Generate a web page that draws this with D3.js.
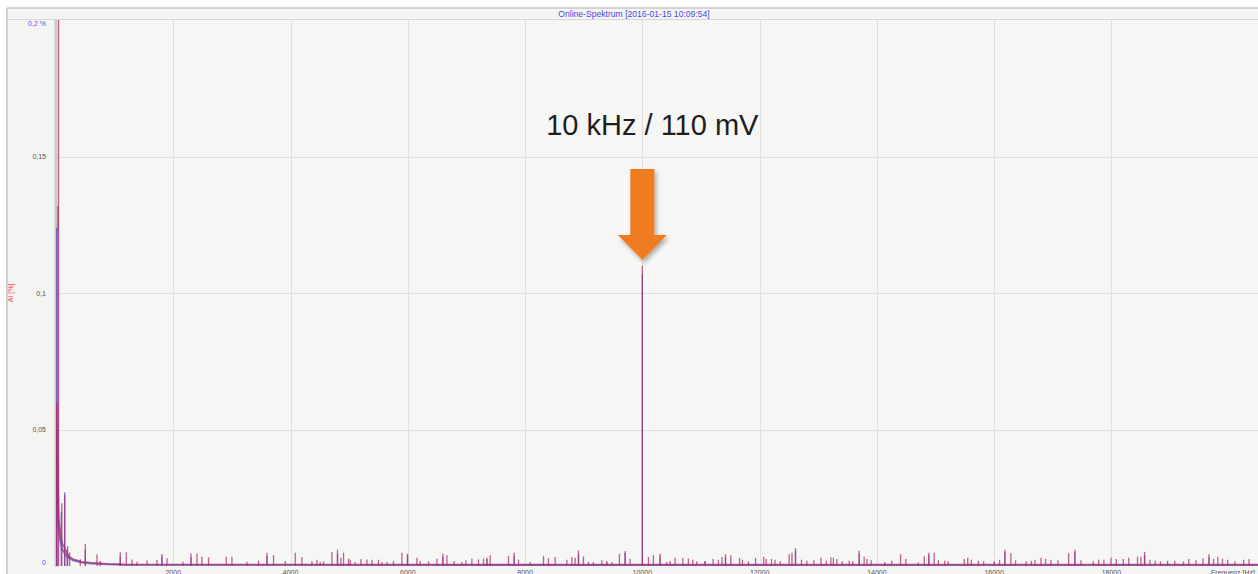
<!DOCTYPE html>
<html>
<head>
<meta charset="utf-8">
<script src="https://cdn.jsdelivr.net/npm/d3@7"></script>
<style>
  html, body { margin: 0; padding: 0; background: #ffffff; }
  svg { display: block; }
</style>
</head>
<body>
<svg id="chart" width="1258" height="574"></svg>
<script>
// Spectrum channels as [frequency Hz, amplitude] pairs
const redPeaks = [
  [44, 0.42], [30, 0.132], [100, 0.023], [150, 0.026], [198, 0.0073], [232, 0.005],
  [414, 0.0025], [500, 0.0081], [699, 0.0042], [755, 0.0018], [1096, 0.005], [1199, 0.005],
  [1296, 0.0024], [1381, 0.0016], [1552, 0.002], [1722, 0.0022], [1807, 0.0044], [1893, 0.0028],
  [2165, 0.0016], [2302, 0.0046], [2404, 0.0046], [2489, 0.0034], [2602, 0.0032], [2904, 0.0034],
  [3001, 0.0034], [3257, 0.0016], [3454, 0.002], [3598, 0.0049], [3710, 0.004], [3910, 0.0018],
  [4080, 0.0049], [4194, 0.0033], [4365, 0.0017], [4450, 0.0023], [4506, 0.0015], [4563, 0.0017],
  [4706, 0.0051], [4801, 0.006], [4859, 0.003], [4904, 0.0049], [4989, 0.0027], [5018, 0.0023],
  [5103, 0.0015], [5200, 0.0026], [5303, 0.0024], [5388, 0.0023], [5500, 0.0023], [5558, 0.0015],
  [5644, 0.0015], [5756, 0.0018], [5899, 0.0049], [5995, 0.0045], [6155, 0.003], [6211, 0.0018],
  [6353, 0.0017], [6496, 0.0027], [6598, 0.0045], [6667, 0.0039], [6791, 0.0018], [6922, 0.0015],
  [6991, 0.0021], [7093, 0.0027], [7206, 0.0024], [7291, 0.0027], [7349, 0.003], [7405, 0.0039],
  [7717, 0.0037], [7814, 0.0049], [7888, 0.0023], [8087, 0.0015], [8314, 0.0037], [8399, 0.0029],
  [8513, 0.0033], [8713, 0.0023], [8798, 0.0033], [8854, 0.003], [8911, 0.0057], [8996, 0.0035],
  [9081, 0.0015], [9166, 0.0015], [9309, 0.0021], [9395, 0.0018], [9480, 0.0015], [9609, 0.0045],
  [9706, 0.0055], [9792, 0.0027], [10000, 0.11], [10104, 0.0033], [10189, 0.0039], [10303, 0.0045],
  [10417, 0.0015], [10474, 0.0018], [10559, 0.003], [10690, 0.0029], [10786, 0.0027], [10861, 0.0023],
  [10929, 0.0017], [11069, 0.0017], [11207, 0.0026], [11297, 0.0023], [11358, 0.0034], [11418, 0.0043],
  [11509, 0.0039], [11659, 0.003], [11708, 0.0023], [11810, 0.0017], [11931, 0.003], [12070, 0.0034],
  [12112, 0.0026], [12203, 0.0026], [12262, 0.0023], [12353, 0.0017], [12504, 0.0043], [12552, 0.0049],
  [12612, 0.0065], [12714, 0.0023], [12806, 0.0019], [12925, 0.0021], [13047, 0.003], [13137, 0.0019],
  [13215, 0.0032], [13258, 0.003], [13318, 0.0026], [13408, 0.0017], [13529, 0.0019], [13589, 0.0017],
  [13698, 0.0056], [13783, 0.0034], [13831, 0.0026], [13903, 0.0021], [14133, 0.0013], [14254, 0.0019],
  [14404, 0.0043], [14494, 0.0026], [14706, 0.0013], [14808, 0.0036], [14886, 0.0049], [14977, 0.0049],
  [15049, 0.0021], [15158, 0.0019], [15217, 0.0017], [15490, 0.0026], [15550, 0.003], [15610, 0.0023],
  [15731, 0.0019], [15821, 0.0017], [16002, 0.0017], [16092, 0.0023], [16183, 0.006], [16286, 0.0047],
  [16365, 0.0021], [16545, 0.0017], [16636, 0.0019], [16697, 0.0023], [16799, 0.003], [16877, 0.0026],
  [16968, 0.0023], [17089, 0.0021], [17270, 0.0047], [17377, 0.006], [17480, 0.0021], [17691, 0.0017],
  [17782, 0.0023], [17872, 0.0023], [17993, 0.003], [18083, 0.0026], [18203, 0.0026], [18295, 0.003],
  [18445, 0.0034], [18504, 0.0034], [18566, 0.0052], [18656, 0.0023], [18747, 0.0019], [18837, 0.0017],
  [18958, 0.0019], [19079, 0.0019], [19229, 0.0017], [19320, 0.0026], [19441, 0.0021], [19562, 0.0028],
  [19664, 0.0043], [19742, 0.0026], [19815, 0.0034], [19894, 0.0026], [19984, 0.0023], [20105, 0.0017],
  [20257, 0.0023], [20347, 0.0026]
];

const bluePeaks = [
  [6, 0.124], [90, 0.02], [147, 0.027], [190, 0.006], [500, 0.006], [1096, 0.0035], [1807, 0.0035],
  [2302, 0.0032], [3598, 0.0036], [4801, 0.0045], [5995, 0.004], [6598, 0.0035], [7349, 0.0025],
  [7814, 0.0038], [8911, 0.0045], [9395, 0.0012], [9706, 0.0048], [10000, 0.107], [10303, 0.0035],
  [11069, 0.0017], [11418, 0.0032], [12612, 0.0055], [13698, 0.0045], [14133, 0.0012], [14886, 0.004],
  [16002, 0.0015], [16183, 0.005], [17377, 0.005], [18566, 0.004], [19664, 0.0032]
];

// Noise floor of each channel
const redFloor = [
  [0, 0], [12, 0.06], [45, 0.0182], [73, 0.0122], [102, 0.0085], [159, 0.006], [215, 0.0036],
  [300, 0.0024], [443, 0.0015], [585, 0.0012], [870, 0.0008], [1153, 0.0006], [3000, 0.0005], [20500, 0.0005]
];
const blueFloor = [
  [0, 0], [10, 0.05], [40, 0.015], [70, 0.0095], [100, 0.0065], [150, 0.0045], [210, 0.003],
  [300, 0.002], [450, 0.0012], [600, 0.0009], [900, 0.0006], [1200, 0.0004], [20500, 0.0003]
];

const yTicks = [0, 0.05, 0.1, 0.15, 0.2];
const yTickLabels = ["0", "0,05", "0,1", "0,15", "0,2 %"];
const xTicks = [2000, 4000, 6000, 8000, 10000, 12000, 14000, 16000, 18000];
const xTickLabels = ["2000", "4000", "6000", "8000", "10000", "12000", "14000", "16000", "18000"];

const chartTitle = "Online-Spektrum [2016-01-15 10:09:54]";
const yTitle = "AI [%]";
const xTitle = "Frequenz [Hz]";
const marker = { freq: 10000, volts: 0.11 };

const svg = d3.select("#chart");
const W = 1258, H = 574;
const plot = { left: 56, right: 1258, top: 20, bottom: 566 };

const x = d3.scaleLinear().domain([0, 20500]).range([plot.left, plot.right]);
const y = d3.scaleLinear().domain([0, 0.2]).range([plot.bottom, plot.top + 0.5]);

const defs = svg.append("defs");
defs.append("clipPath").attr("id", "plotClip")
  .append("rect").attr("x", plot.left).attr("y", plot.top)
  .attr("width", plot.right - plot.left).attr("height", plot.bottom - plot.top + 2);
const shadow = defs.append("filter").attr("id", "arrowShadow")
  .attr("x", "-30%").attr("y", "-30%").attr("width", "160%").attr("height", "160%");
shadow.append("feDropShadow").attr("dx", 2).attr("dy", 3).attr("stdDeviation", 2)
  .attr("flood-color", "#000").attr("flood-opacity", 0.3);

// Window panel
svg.append("rect").attr("x", 0).attr("y", 0).attr("width", W).attr("height", H).attr("fill", "#ffffff");
svg.append("rect").attr("x", 8).attr("y", 9).attr("width", W - 8).attr("height", H - 9).attr("fill", "#f4f4f2");
svg.append("line").attr("x1", 7).attr("x2", W).attr("y1", 8).attr("y2", 8)
  .attr("stroke", "#d2d2d2").attr("stroke-width", 2);
svg.append("line").attr("x1", 7).attr("x2", 7).attr("y1", 8).attr("y2", H)
  .attr("stroke", "#d2d2d2").attr("stroke-width", 2);

// Plot area
svg.append("rect").attr("x", plot.left).attr("y", plot.top)
  .attr("width", plot.right - plot.left).attr("height", plot.bottom - plot.top).attr("fill", "#f6f6f4");
svg.append("line").attr("x1", 8).attr("x2", W).attr("y1", 19.5).attr("y2", 19.5)
  .attr("stroke", "#d6d6d6").attr("stroke-width", 1.2);

// Title
svg.append("text").attr("x", 634).attr("y", 17).attr("text-anchor", "middle")
  .attr("font-family", "Liberation Sans, Arial, sans-serif").attr("font-size", 8.6)
  .attr("fill", "#4848f0").text(chartTitle);

// Grid
const grid = svg.append("g");
grid.selectAll("line.vx").data(xTicks).join("line")
  .attr("x1", d => Math.round(x(d)) + 0.5).attr("x2", d => Math.round(x(d)) + 0.5)
  .attr("y1", plot.top).attr("y2", plot.bottom)
  .attr("stroke", "#e0e0de").attr("stroke-width", 1);
grid.selectAll("line.hy").data(yTicks.filter(d => d > 0 && d < 0.2)).join("line")
  .attr("x1", plot.left).attr("x2", plot.right)
  .attr("y1", d => Math.round(y(d)) + 0.5).attr("y2", d => Math.round(y(d)) + 0.5)
  .attr("stroke", "#e0e0de").attr("stroke-width", 1);

// Left axis bar
svg.append("line").attr("x1", plot.left).attr("x2", plot.left).attr("y1", plot.top).attr("y2", plot.bottom + 1)
  .attr("stroke", "#c9c9c7").attr("stroke-width", 3);

// Y tick labels
svg.append("g").selectAll("text").data(yTicks).join("text")
  .attr("x", 46)
  .attr("y", d => Math.min(Math.max(y(d), 23), 562) + 2.5)
  .attr("text-anchor", "end")
  .attr("font-family", "Liberation Sans, Arial, sans-serif").attr("font-size", 7)
  .attr("fill", (d, i) => (i === 0 || i === yTicks.length - 1) ? "#5a5aff" : "#555555")
  .text((d, i) => yTickLabels[i]);

// Y title
svg.append("text").attr("transform", "translate(13,293) rotate(-90)")
  .attr("text-anchor", "middle")
  .attr("font-family", "Liberation Sans, Arial, sans-serif").attr("font-size", 7)
  .attr("fill", "#ff4a4a").text(yTitle);

// X tick labels
svg.append("g").selectAll("text").data(xTicks).join("text")
  .attr("x", d => x(d)).attr("y", 574.5)
  .attr("text-anchor", "middle")
  .attr("font-family", "Liberation Sans, Arial, sans-serif").attr("font-size", 7)
  .attr("fill", "#555555")
  .text((d, i) => xTickLabels[i]);
svg.append("text").attr("x", 1255).attr("y", 574.5).attr("text-anchor", "end")
  .attr("font-family", "Liberation Sans, Arial, sans-serif").attr("font-size", 7)
  .attr("fill", "#555555").text(xTitle);

// Spectrum
const spec = svg.append("g").attr("clip-path", "url(#plotClip)");
const floorLine = d3.line().x(d => x(d[0])).y(d => y(d[1]));

function drawChannel(peaks, floor, color, opacity) {
  const g = spec.append("g");
  g.selectAll("line").data(peaks).join("line")
    .attr("x1", d => x(d[0])).attr("x2", d => x(d[0]))
    .attr("y1", y(0)).attr("y2", d => y(d[1]))
    .attr("stroke", color).attr("stroke-width", 1.3).attr("stroke-opacity", opacity);
  g.append("path").datum(floor).attr("d", floorLine)
    .attr("fill", "none").attr("stroke", color).attr("stroke-width", 1.8).attr("stroke-opacity", opacity);
}
drawChannel(bluePeaks, blueFloor, "#4a3cc4", 0.7);
drawChannel(redPeaks, redFloor, "#a8306e", 0.75);

// Marker annotation
const ax = x(marker.freq);
svg.append("text").attr("x", ax + 10).attr("y", 135).attr("text-anchor", "middle")
  .attr("font-family", "Liberation Sans, Arial, sans-serif").attr("font-size", 29)
  .attr("fill", "#1e1e1e")
  .text(`${marker.freq / 1000} kHz / ${Math.round(marker.volts * 1000)} mV`);

const arrowPts = [
  [ax - 12, 169], [ax + 12, 169], [ax + 12, 235], [ax + 24.5, 235],
  [ax, 260], [ax - 24.5, 235], [ax - 12, 235]
];
svg.append("polygon").attr("points", arrowPts.map(p => p.join(",")).join(" "))
  .attr("fill", "#f07b22").attr("filter", "url(#arrowShadow)");
</script>
</body>
</html>
